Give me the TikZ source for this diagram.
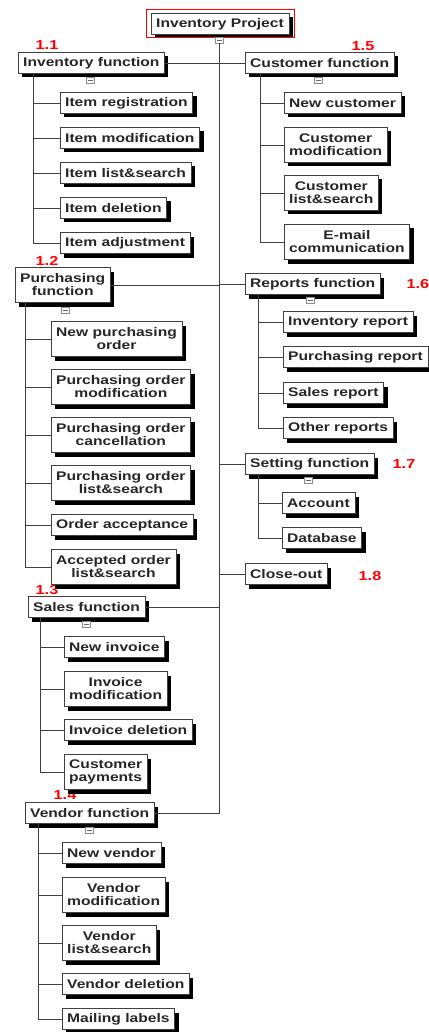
\documentclass[tikz,border=0pt]{standalone}
\usepackage{fontspec}
\setmainfont{Liberation Sans}
\newfontfamily\boxfont[FakeStretch=1.25]{Liberation Sans}
\usetikzlibrary{shadows}

\tikzset{
  box/.style={draw=black!75, fill=white, text=black!85, anchor=west, align=center,
    font=\boxfont\bfseries\fontsize{12.5}{13}\selectfont, inner xsep=5pt, inner ysep=4.5pt,
    minimum height=21pt,
    drop shadow={shadow xshift=4pt, shadow yshift=-4pt, opacity=1, fill=black}},
  tallbox/.style={box, minimum height=35pt},
  num/.style={text=red, font=\boxfont\bfseries\fontsize{13}{13}\selectfont},
  tog/.style={draw=black!45, fill=white, minimum width=8pt, minimum height=6pt, inner sep=0pt,
    path picture={\draw[black!60] ([xshift=1.5pt]path picture bounding box.west) -- ([xshift=-1.5pt]path picture bounding box.east);}},
  link/.style={draw=black!75, line width=0.9pt}
}

\begin{document}
\begin{tikzpicture}[x=1pt, y=-1pt]
  \useasboundingbox (0,0) rectangle (428,1032);

  % root
  \node[box, anchor=center] (root) at (220,24) {Inventory Project};
  \draw[red, line width=0.8pt] ([shift={(-5pt,4pt)}]root.north west) rectangle ([shift={(5pt,-3pt)}]root.south east);
  \node[tog] (m0) at (219,40) {};

  % first level
  \node[box] (inv) at (18,63) {Inventory function};
  \node[box] (cust) at (245,63) {Customer function};
  \node[tallbox] (pur) at (15,285) {Purchasing\\function};
  \node[box] (rep) at (245,284) {Reports function};
  \node[box] (set) at (245,464) {Setting function};
  \node[box] (clo) at (245,574) {Close-out};
  \node[box] (sal) at (28,607) {Sales function};
  \node[box] (ven) at (25,813) {Vendor function};

  % numbers
  \node[num] at (47,45) {1.1};
  \node[num] at (47,261) {1.2};
  \node[num] at (47,590) {1.3};
  \node[num] at (65,795) {1.4};
  \node[num] at (363,46) {1.5};
  \node[num, anchor=west] at (403,284) {1.6};
  \node[num] at (404,464) {1.7};
  \node[num] at (370,576) {1.8};

  % inventory
  \node[box] (ireg) at (60,103) {Item registration};
  \node[box] (imod) at (60,138) {Item modification};
  \node[box] (ilst) at (60,173) {Item list\&search};
  \node[box] (idel) at (60,208) {Item deletion};
  \node[box] (iadj) at (60,243) {Item adjustment};

  % customer
  \node[box] (cnew) at (284,103) {New customer};
  \node[tallbox] (cmod) at (284,145) {Customer\\modification};
  \node[tallbox] (clst) at (284,193) {Customer\\list\&search};
  \node[tallbox] (cmail) at (284,242) {E-mail\\communication};

  % purchasing
  \node[tallbox] (pnew) at (51,339) {New purchasing\\order};
  \node[tallbox] (pmod) at (51,387) {Purchasing order\\modification};
  \node[tallbox] (pcan) at (51,435) {Purchasing order\\cancellation};
  \node[tallbox] (plst) at (51,483) {Purchasing order\\list\&search};
  \node[box] (pacc) at (51,525) {Order acceptance};
  \node[tallbox] (palst) at (51,567) {Accepted order\\list\&search};

  % reports
  \node[box] (rinv) at (283,322) {Inventory report};
  \node[box] (rpur) at (283,357) {Purchasing report};
  \node[box] (rsal) at (283,393) {Sales report};
  \node[box] (roth) at (283,428) {Other reports};

  % setting
  \node[box] (sacc) at (282,503) {Account};
  \node[box] (sdb) at (282,538) {Database};

  % sales
  \node[box] (snew) at (64,647) {New invoice};
  \node[tallbox] (smod) at (64,689) {Invoice\\modification};
  \node[box] (sdel) at (64,730) {Invoice deletion};
  \node[tallbox] (spay) at (64,772) {Customer\\payments};

  % vendor
  \node[box] (vnew) at (62,853) {New vendor};
  \node[tallbox] (vmod) at (62,895) {Vendor\\modification};
  \node[tallbox] (vlst) at (62,943) {Vendor\\list\&search};
  \node[box] (vdel) at (62,984) {Vendor deletion};
  \node[box] (vlab) at (62,1019) {Mailing labels};

  % trunk
  \draw[link] (m0.south) |- (ven.east);
  \draw[link] (inv.east) -- (cust.west);
  \draw[link] (pur.east) -- (pur.east -| m0);
  \draw[link] (sal.east) -- (sal.east -| m0);
  \draw[link] (rep.west -| m0) -- (rep.west);
  \draw[link] (set.west -| m0) -- (set.west);
  \draw[link] (clo.west -| m0) -- (clo.west);

  % branches
  \foreach \c in {ireg,imod,ilst,idel,iadj}
    \draw[link] ([xshift=15pt]inv.south west) |- (\c.west);
  \foreach \c in {cnew,cmod,clst,cmail}
    \draw[link] ([xshift=15pt]cust.south west) |- (\c.west);
  \foreach \c in {pnew,pmod,pcan,plst,pacc,palst}
    \draw[link] ([xshift=10pt]pur.south west) |- (\c.west);
  \foreach \c in {rinv,rpur,rsal,roth}
    \draw[link] ([xshift=13pt]rep.south west) |- (\c.west);
  \foreach \c in {sacc,sdb}
    \draw[link] ([xshift=13pt]set.south west) |- (\c.west);
  \foreach \c in {snew,smod,sdel,spay}
    \draw[link] ([xshift=12pt]sal.south west) |- (\c.west);
  \foreach \c in {vnew,vmod,vlst,vdel,vlab}
    \draw[link] ([xshift=13pt]ven.south west) |- (\c.west);

  % toggles
  \node[tog] (t11) at (90,80) {};
  \node[tog] (t15) at (318,80) {};
  \node[tog] (t12) at (65,310) {};
  \node[tog] (t16) at (310,300) {};
  \node[tog] (t17) at (308,480) {};
  \node[tog] (t13) at (86,624) {};
  \node[tog] (t14) at (89,830) {};
\end{tikzpicture}
\end{document}
